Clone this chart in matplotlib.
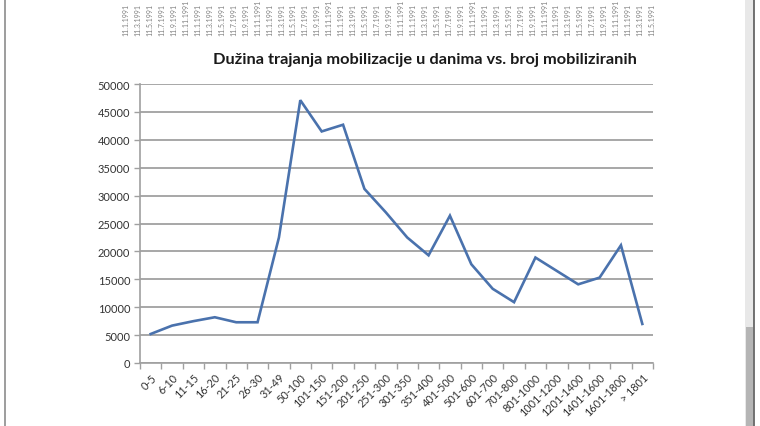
import matplotlib
matplotlib.use("Agg")
import matplotlib.pyplot as plt
from matplotlib.lines import Line2D
from matplotlib.patches import Rectangle

plt.rcParams['font.family'] = ['Lato', 'DejaVu Sans']

# duration of mobilisation (days) vs. number of mobilised
categories = ['0-5', '6-10', '11-15', '16-20', '21-25', '26-30', '31-49', '50-100',
              '101-150', '151-200', '201-250', '251-300', '301-350', '351-400',
              '401-500', '501-600', '601-700', '701-800', '801-1000', '1001-1200',
              '1201-1400', '1401-1600', '1601-1800', '> 1801']
mobilised = [5200, 6700, 7500, 8200, 7300, 7300, 22500, 47100, 41500, 42700,
             31200, 27000, 22500, 19300, 26400, 17700, 13300, 10900, 18900,
             16500, 14100, 15300, 21100, 7000]

y_ticks = list(range(0, 50001, 5000))

# cut-off date labels of the chart above (only bottoms are visible)
top_labels = ['11.%d.1991' % m for m in [1, 3, 5, 7, 9, 11]] * 8

grid_col = '#a0a0a0'

fig = plt.figure(figsize=(7.6, 4.27), dpi=100)
ax = fig.add_axes([140 / 760, 63 / 427, 513 / 760, 279 / 427])

x = range(len(categories))
ax.plot(x, mobilised, color='#4a72ad', linewidth=1.9, solid_joinstyle='miter')

ax.set_xlim(-0.5, len(categories) - 0.5)
ax.set_ylim(0, 50000)
ax.set_yticks(y_ticks)
ax.set_yticklabels([str(v) for v in y_ticks], fontsize=8, color='#333333')
ax.yaxis.grid(True, color=grid_col, linewidth=1.3)
ax.set_axisbelow(True)

ax.set_xticks([i - 0.5 for i in range(len(categories) + 1)])
ax.set_xticklabels([])
ax.set_xticks(list(x), minor=True)
ax.set_xticklabels(categories, minor=True, rotation=45, ha='right', va='top',
                   rotation_mode='anchor', fontsize=7.8, color='#333333')
ax.tick_params(axis='x', which='minor', length=0, pad=6)
ax.tick_params(axis='x', which='major', length=4, color=grid_col, width=1)
ax.tick_params(axis='y', length=4, color=grid_col, width=1, pad=3)

for side in ['top', 'right']:
    ax.spines[side].set_visible(False)
for side in ['left', 'bottom']:
    ax.spines[side].set_color(grid_col)
    ax.spines[side].set_linewidth(1.2)

fig.text(425 / 760, 1 - 60 / 427,
         'Dužina trajanja mobilizacije u danima vs. broj mobiliziranih',
         ha='center', va='center', fontsize=11.8, fontweight='bold', color='#1a1a1a')

# partial labels from the chart above, cut by the top edge
n_top = 45
for i in range(n_top):
    xp = 126 + i * (652 - 126) / (n_top - 1)
    fig.text(xp / 760, 1 - 36 / 427, top_labels[i % len(top_labels)],
             rotation=90, ha='center', va='bottom', fontsize=5, color='#808080')

# window frame and scrollbar
fig.add_artist(Line2D([5 / 760, 5 / 760], [0, 1], color='#8c8c8c', linewidth=1.2))
fig.add_artist(Rectangle((745 / 760, 0), 9 / 760, 1, color='#e8e8e8', linewidth=0))
fig.add_artist(Rectangle((746 / 760, 0), 7 / 760, 1 - 328 / 427, color='#b5b5b5', linewidth=0))
fig.add_artist(Line2D([754 / 760, 754 / 760], [0, 1], color='#5a5a5a', linewidth=1.2))

fig.savefig('out.png', dpi=100, facecolor='white')
